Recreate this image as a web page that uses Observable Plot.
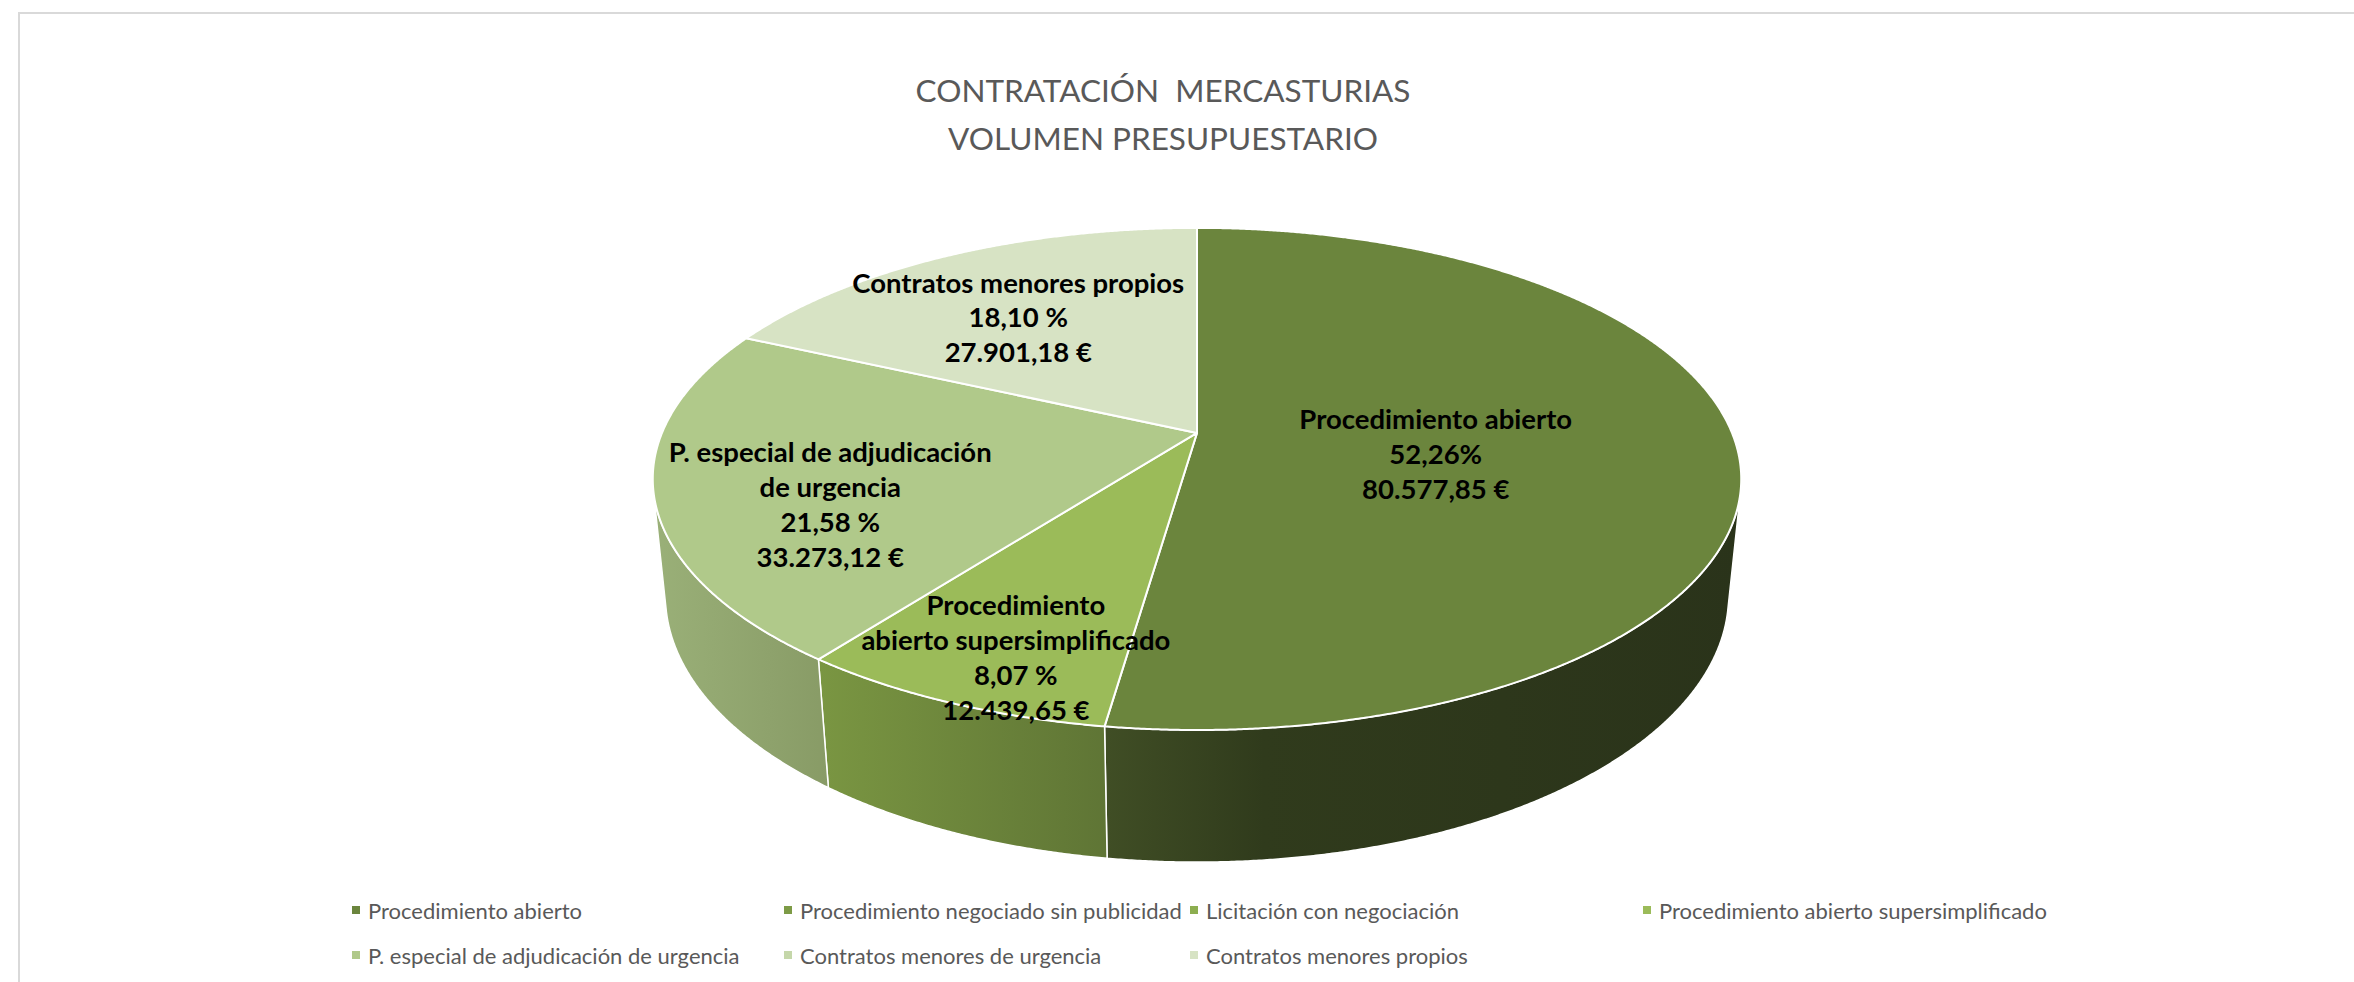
<!DOCTYPE html>
<html>
<head>
<meta charset="utf-8">
<script src="https://cdn.jsdelivr.net/npm/d3@7"></script>
<script src="https://cdn.jsdelivr.net/npm/@observablehq/plot@0.6"></script>
<style>
  html, body { margin: 0; padding: 0; background: #fff; width: 2354px; height: 982px; overflow: hidden; }
  body { position: relative; font-family: Lato, "Open Sans", sans-serif; }
  #frame { position: absolute; left: 18px; top: 12px; width: 2400px; height: 1000px;
           border-left: 2px solid #d9d9d9; border-top: 2px solid #d9d9d9; box-sizing: border-box; }
  #title { position: absolute; left: 0; width: 2326px; top: 66px; text-align: center;
           font-size: 31.5px; line-height: 48px; color: #595959; white-space: pre; }
  #chart { position: absolute; left: 0; top: 180px; }
  #legend { position: absolute; left: 0; top: 0; width: 2354px; height: 982px; pointer-events: none; }
  .item { position: absolute; display: flex; align-items: center; font-size: 22px; color: #595959;
          white-space: nowrap; height: 30px; }
  .sw { width: 8px; height: 8px; margin-right: 8px; }
</style>
</head>
<body>
<div id="frame"></div>
<div id="title"></div>
<div id="chart"></div>
<div id="legend"></div>
<script>
// ---------------- data ----------------
const titleLines = ["CONTRATACIÓN  MERCASTURIAS", "VOLUMEN PRESUPUESTARIO"];
const categories = [
  "Procedimiento abierto",
  "Procedimiento negociado sin publicidad",
  "Licitación con negociación",
  "Procedimiento abierto supersimplificado",
  "P. especial de adjudicación de urgencia",
  "Contratos menores de urgencia",
  "Contratos menores propios"
];
const amounts = [80577.85, 0, 0, 12439.65, 33273.12, 0, 27901.18];
const pctLabels = ["52,26%", "", "", "8,07 %", "21,58 %", "", "18,10 %"];
const labelNames = [
  "Procedimiento abierto", "", "",
  "Procedimiento\nabierto supersimplificado",
  "P. especial de adjudicación\nde urgencia", "",
  "Contratos menores propios"
];
const colors = ["#6b853d", "#7d9b46", "#8dae50", "#9bbb59", "#b0c98a", "#c5d7aa", "#d7e3c4"];

// ---------------- layout / style ----------------
const W = 2354, H = 690;
const K = 535;                       // pixels per pie radius unit
const APEX = [1196.5, 252.4];        // pie centre in the svg
const VIEW = { dist: 4.86, tilt: Math.asin(0.4535), depth: 0.247 };
// label placement (angle in degrees clockwise from the far point, radius fraction)
const labelPlace = {
  "Procedimiento abierto": [100.4, 0.447],
  "Procedimiento abierto supersimplificado": [200.2, 0.839],
  "P. especial de adjudicación de urgencia": [247.0, 0.707],
  "Contratos menores propios": [325.2, 0.642]
};
const sideGradients = {
  "Procedimiento abierto": [[0, "#404e25"], [0.25, "#303b1c"], [1, "#2a331a"]],
  "Procedimiento abierto supersimplificado": [[0, "#7a9642"], [1, "#5f7535"]],
  "P. especial de adjudicación de urgencia": [[0, "#9ab078"], [1, "#889b66"]]
};
const legendCols = [356, 788, 1194, 1647];
const legendRows = [910, 955];

// ---------------- geometry ----------------
function proj(theta, r, yw) {
  const X = r * Math.sin(theta), Z = r * Math.cos(theta);
  const s = Math.sin(VIEW.tilt), c = Math.cos(VIEW.tilt);
  const yp = Z * s + yw * c;
  const dep = Z * c - yw * s + VIEW.dist;
  return [VIEW.dist * X / dep, -VIEW.dist * yp / dep];
}
const total = d3.sum(amounts);
let acc = 0;
const slices = categories.map((cat, i) => {
  const a0 = acc / total * 2 * Math.PI;
  acc += amounts[i];
  return { cat, i, value: amounts[i], a0, a1: acc / total * 2 * Math.PI };
}).filter(s => s.value > 0);

const step = Math.PI / 720;
const topRows = [];
for (const s of slices) {
  const [cx, cy] = proj(0, 0, 0);
  topRows.push({ cat: s.cat, x: cx, y: cy });
  const n = Math.max(2, Math.ceil((s.a1 - s.a0) / step));
  for (let j = 0; j <= n; j++) {
    const t = s.a0 + (s.a1 - s.a0) * j / n;
    const [x, y] = proj(t, 1, 0);
    topRows.push({ cat: s.cat, x, y });
  }
}
// visible part of the cylinder wall
const vis0 = Math.acos(-1 / (VIEW.dist * Math.cos(VIEW.tilt)));
const vis1 = 2 * Math.PI - vis0;
const sideSets = [];
for (const s of slices) {
  const t0 = Math.max(s.a0, vis0), t1 = Math.min(s.a1, vis1);
  if (t1 <= t0) continue;
  const n = Math.max(2, Math.ceil((t1 - t0) / step));
  const rows = [];
  for (let j = 0; j <= n; j++) {
    const t = t0 + (t1 - t0) * j / n;
    const [x, y] = proj(t, 1, 0);
    rows.push({ cat: s.cat, x, y });
  }
  for (let j = n; j >= 0; j--) {
    const t = t0 + (t1 - t0) * j / n;
    const [x, y] = proj(t, 1, -VIEW.depth);
    rows.push({ cat: s.cat, x, y });
  }
  sideSets.push({ cat: s.cat, i: s.i, rows });
}

const euro = d3.formatLocale({ decimal: ",", thousands: ".", grouping: [3], currency: ["", " €"] }).format("$,.2f");
const labelRows = slices.map(s => {
  const [deg, r] = labelPlace[s.cat];
  const [x, y] = proj(deg * Math.PI / 180, r, 0);
  return { x, y, text: `${labelNames[s.i]}\n${pctLabels[s.i]}\n${euro(s.value)}` };
});

// ---------------- chart ----------------
const sideMarks = sideSets.map(ss =>
  Plot.line(ss.rows, { x: "x", y: "y", fill: `url(#side-${ss.i})`, stroke: "white",
    strokeWidth: 1.5, strokeLinejoin: "round", curve: "linear-closed" })
);

const svg = Plot.plot({
  width: W, height: H, margin: 0,
  x: { type: "linear", domain: [-APEX[0] / K, (W - APEX[0]) / K], range: [0, W], axis: null },
  y: { type: "linear", domain: [-APEX[1] / K, (H - APEX[1]) / K], range: [0, H], axis: null },
  color: { type: "ordinal", domain: categories, range: colors },
  style: { background: "transparent", fontFamily: "Lato, 'Open Sans', sans-serif", overflow: "visible" },
  marks: [
    ...sideMarks,
    Plot.line(topRows, { x: "x", y: "y", z: "cat", fill: "cat", stroke: "white", strokeWidth: 2,
      strokeLinejoin: "round", curve: "linear-closed" }),
    Plot.text(labelRows, { x: "x", y: "y", text: "text", fontSize: 27.5, fontWeight: "bold",
      fill: "black", lineHeight: 1.27, lineAnchor: "middle", textAnchor: "middle",
      fontFamily: "Lato, 'Open Sans', sans-serif" })
  ]
});

// gradients for the wall shading
const defs = d3.select(svg).insert("defs", ":first-child");
for (const ss of sideSets) {
  const g = defs.append("linearGradient").attr("id", `side-${ss.i}`)
    .attr("x1", "0").attr("x2", "1").attr("y1", "0").attr("y2", "0");
  for (const [o, c] of sideGradients[ss.cat]) g.append("stop").attr("offset", o).attr("stop-color", c);
}
document.getElementById("chart").appendChild(svg);

// title
document.getElementById("title").textContent = titleLines.join("\n");

// legend
const leg = d3.select("#legend");
categories.forEach((c, i) => {
  const col = i % 4, row = Math.floor(i / 4);
  const it = leg.append("div").attr("class", "item")
    .style("left", (legendCols[col] - 4) + "px")
    .style("top", (legendRows[row] - 15) + "px");
  it.append("div").attr("class", "sw").style("background", colors[i]);
  it.append("span").text(c);
});
</script>
</body>
</html>
